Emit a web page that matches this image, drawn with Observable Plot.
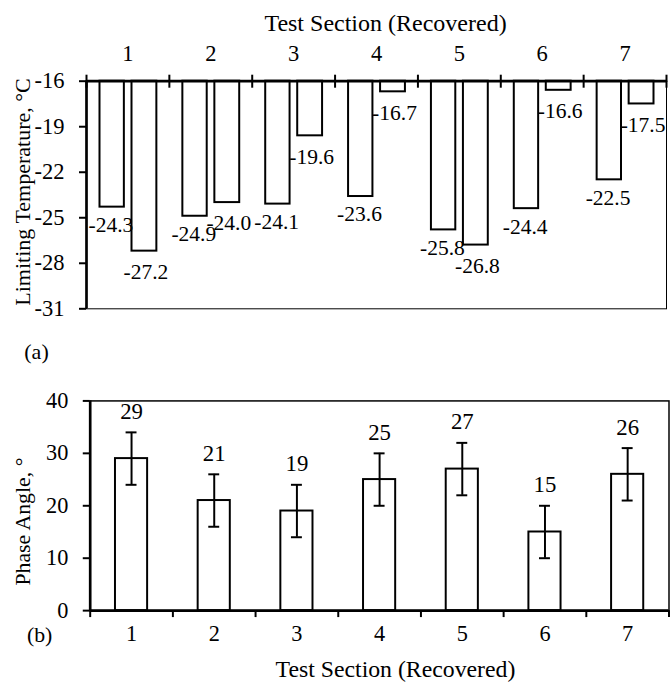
<!DOCTYPE html>
<html><head><meta charset="utf-8">
<script src="https://cdn.jsdelivr.net/npm/d3@7"></script>
<script src="https://cdn.jsdelivr.net/npm/@observablehq/plot@0.6"></script>
<style>
html,body{margin:0;padding:0;background:#fff;}
#wrap{position:relative;width:670px;height:684px;overflow:hidden;background:#fff;}
#wrap svg{position:absolute;left:0;}
</style></head><body><div id="wrap"></div>
<script>
// ---- data ----
const sections = [1, 2, 3, 4, 5, 6, 7];
const tempA = [-24.3, -24.9, -24.1, -23.6, -25.8, -24.4, -22.5];
const tempB = [-27.2, -24.0, -19.6, -16.7, -26.8, -16.6, -17.5];
const tempTicks = [-16, -19, -22, -25, -28, -31];
const phase = [29, 21, 19, 25, 27, 15, 26];
const phaseErr = [5, 5, 5, 5, 5, 5, 5];
const phaseTicks = [0, 10, 20, 30, 40];
const xTitle = "Test Section (Recovered)";
const yTitleTop = "Limiting Temperature, °C";
const yTitleBottom = "Phase Angle, °";
const panelA = "(a)";
const panelB = "(b)";

// ---- derived tables ----
const rowsA = sections.map((s, i) => ({section: s, value: tempA[i]}));
const rowsB = sections.map((s, i) => ({section: s, value: tempB[i]}));
const rowsP = sections.map((s, i) => ({section: s, value: phase[i], lo: phase[i] - phaseErr[i], hi: phase[i] + phaseErr[i]}));
const boundaries = [sections[0] - 0.5, ...sections.map(s => s + 0.5)];
const xDomain = [boundaries[0], boundaries[boundaries.length - 1]];
const tDomain = d3.extent(tempTicks);
const pDomain = d3.extent(phaseTicks);
const font = "'Liberation Serif', 'Times New Roman', serif";
const fmt = d => String(d);
const blank = () => "";

const wrap = document.getElementById("wrap");

// ---- top panel ----
const H1 = 370, mT1 = 80.7, mB1 = 61.7;
const plotH1 = H1 - mT1 - mB1;
const topPlot = Plot.plot({
  width: 670, height: H1,
  marginTop: mT1, marginBottom: mB1, marginLeft: 86, marginRight: 4,
  style: {fontFamily: font, fontSize: "22px", color: "black", background: "white", overflow: "visible"},
  x: {domain: xDomain, axis: null},
  y: {domain: tDomain, axis: null},
  marks: [
    Plot.frame({stroke: "black", strokeWidth: 1}),
    Plot.rectY(rowsA, {x1: d => d.section - 0.5, x2: d => d.section + 0.5, y1: tDomain[1], y2: "value",
      insetLeft: 13.5, insetRight: 45, fill: "white", stroke: "black", strokeWidth: 2}),
    Plot.rectY(rowsB, {x1: d => d.section - 0.5, x2: d => d.section + 0.5, y1: tDomain[1], y2: "value",
      insetLeft: 45.5, insetRight: 12.5, fill: "white", stroke: "black", strokeWidth: 2}),
    Plot.ruleY([tDomain[1]], {strokeWidth: 2.7}),
    Plot.ruleX([xDomain[0]], {strokeWidth: 2.7}),
    Plot.axisY(tempTicks, {anchor: "left", tickSize: 7, tickFormat: blank, strokeWidth: 2, label: null}),
    Plot.text(tempTicks, {y: d => d, frameAnchor: "left", textAnchor: "end", dx: -22, fontSize: 22.5, text: fmt}),
    Plot.text(sections, {x: d => d, frameAnchor: "top", lineAnchor: "bottom", dy: -20, fontSize: 22.5, text: fmt}),
    Plot.axisX(boundaries, {anchor: "top", tickSize: 7, tickFormat: blank, strokeWidth: 2, label: null}),
    Plot.tickX(boundaries, {x: d => d, insetBottom: plotH1 - 7, strokeWidth: 2}),
    Plot.text(rowsA, {x: "section", y: "value", text: d => d.value.toFixed(1), dx: -17, dy: 18, fontSize: 21.5}),
    Plot.text(rowsB, {x: "section", y: "value", text: d => d.value.toFixed(1), dx: 18, dy: 21, fontSize: 21.5}),
    Plot.text([xTitle], {frameAnchor: "top", dx: 9, dy: -67, fontSize: 24}),
    Plot.text([yTitleTop], {frameAnchor: "left", textAnchor: "middle", rotate: -90, dx: -64, dy: -3, fontSize: 22}),
    Plot.text([panelA], {frameAnchor: "bottom-left", textAnchor: "middle", dx: -50, dy: 50, fontSize: 22})
  ]
});
topPlot.style.top = "0px";
wrap.appendChild(topPlot);

// ---- bottom panel ----
const H2 = 314, mT2 = 30.7, mB2 = 71.7;
const bottomPlot = Plot.plot({
  width: 676, height: H2,
  marginTop: mT2, marginBottom: mB2, marginLeft: 90.5, marginRight: 1.5,
  style: {fontFamily: font, fontSize: "22px", color: "black", background: "white", overflow: "visible"},
  x: {domain: xDomain, axis: null},
  y: {domain: pDomain, axis: null},
  marks: [
    Plot.frame({stroke: "black", strokeWidth: 1.5}),
    Plot.rectY(rowsP, {x1: d => d.section - 0.5, x2: d => d.section + 0.5, y1: pDomain[0], y2: "value",
      insetLeft: 25.5, insetRight: 25.5, fill: "white", stroke: "black", strokeWidth: 2}),
    Plot.ruleX(rowsP, {x: "section", y1: "lo", y2: "hi", strokeWidth: 2}),
    Plot.ruleY(rowsP, {y: "hi", x1: d => d.section - 0.5, x2: d => d.section + 0.5, insetLeft: 36.2, insetRight: 36.2, strokeWidth: 2}),
    Plot.ruleY(rowsP, {y: "lo", x1: d => d.section - 0.5, x2: d => d.section + 0.5, insetLeft: 36.2, insetRight: 36.2, strokeWidth: 2}),
    Plot.ruleY([pDomain[0]], {strokeWidth: 2.7}),
    Plot.ruleX([xDomain[0]], {strokeWidth: 2.7}),
    Plot.axisY(phaseTicks, {anchor: "left", tickSize: 7, tickFormat: blank, strokeWidth: 2, label: null}),
    Plot.text(phaseTicks, {y: d => d, frameAnchor: "left", textAnchor: "end", dx: -22, fontSize: 22.5, text: fmt}),
    Plot.text(sections, {x: d => d, frameAnchor: "bottom", lineAnchor: "top", dy: 15, fontSize: 22.5, text: fmt}),
    Plot.axisX(boundaries, {anchor: "bottom", tickSize: 7, tickFormat: blank, strokeWidth: 2, label: null}),
    Plot.text(rowsP, {x: "section", y: "hi", text: d => String(d.value), dy: -21, fontSize: 23}),
    Plot.text([xTitle], {frameAnchor: "bottom", dx: 16, dy: 67, fontSize: 24}),
    Plot.text([yTitleBottom], {frameAnchor: "left", textAnchor: "middle", rotate: -90, dx: -68, dy: 16, fontSize: 22}),
    Plot.text([panelB], {frameAnchor: "bottom-left", textAnchor: "middle", dx: -51, dy: 32, fontSize: 22})
  ]
});
bottomPlot.style.top = H1 + "px";
wrap.appendChild(bottomPlot);
</script>
</body></html>
